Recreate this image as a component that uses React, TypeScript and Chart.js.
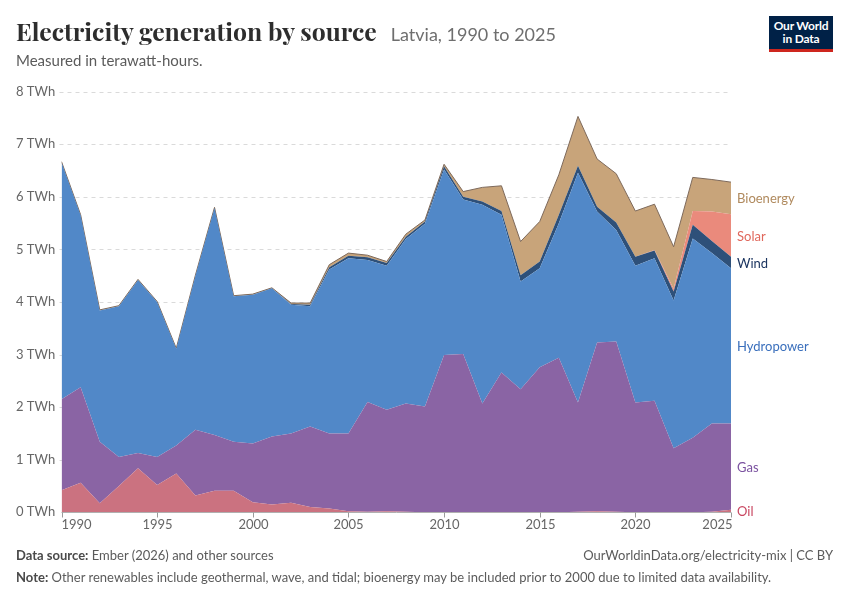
import { useEffect, useRef } from "react";
import { Chart, registerables } from "chart.js";

Chart.register(...registerables);

const years = [
  1990, 1991, 1992, 1993, 1994, 1995, 1996, 1997, 1998, 1999,
  2000, 2001, 2002, 2003, 2004, 2005, 2006, 2007, 2008, 2009,
  2010, 2011, 2012, 2013, 2014, 2015, 2016, 2017, 2018, 2019,
  2020, 2021, 2022, 2023, 2024, 2025,
];

const oil = [
  0.42, 0.56, 0.17, 0.5, 0.84, 0.52, 0.74, 0.32, 0.41, 0.41,
  0.19, 0.15, 0.18, 0.1, 0.07, 0.02, 0.01, 0.02, 0.01, 0.0,
  0.0, 0.0, 0.0, 0.0, 0.0, 0.0, 0.0, 0.01, 0.02, 0.01,
  0.0, 0.0, 0.0, 0.0, 0.01, 0.05,
];

const gas = [
  1.73, 1.82, 1.17, 0.55, 0.29, 0.53, 0.53, 1.25, 1.06, 0.93,
  1.12, 1.29, 1.32, 1.53, 1.43, 1.48, 2.09, 1.93, 2.06, 2.01,
  2.99, 3.01, 2.07, 2.66, 2.34, 2.76, 2.94, 2.08, 3.21, 3.24,
  2.09, 2.12, 1.22, 1.42, 1.68, 1.64,
];

const hydro = [
  4.51, 3.27, 2.5, 2.87, 3.29, 2.95, 1.84, 2.93, 4.32, 2.77,
  2.83, 2.82, 2.45, 2.29, 3.12, 3.33, 2.7, 2.74, 3.13, 3.48,
  3.53, 2.94, 3.78, 3.0, 2.05, 1.88, 2.56, 4.37, 2.49, 2.12,
  2.6, 2.71, 2.81, 3.79, 3.24, 2.95,
];

const wind = [
  0.0, 0.0, 0.0, 0.0, 0.0, 0.0, 0.0, 0.0, 0.0, 0.0,
  0.0, 0.0, 0.01, 0.03, 0.04, 0.05, 0.05, 0.05, 0.04, 0.04,
  0.06, 0.05, 0.06, 0.07, 0.12, 0.13, 0.16, 0.13, 0.09, 0.14,
  0.17, 0.15, 0.17, 0.26, 0.23, 0.22,
];

const solar = [
  0, 0, 0, 0, 0, 0, 0, 0, 0, 0,
  0, 0, 0, 0, 0, 0, 0, 0, 0, 0,
  0, 0, 0, 0, 0, 0, 0, 0, 0, 0,
  0, 0.01, 0.05, 0.26, 0.56, 0.81,
];

const bio = [
  0.01, 0.01, 0.01, 0.01, 0.01, 0.01, 0.01, 0.01, 0.01, 0.01,
  0.01, 0.01, 0.02, 0.03, 0.05, 0.05, 0.04, 0.03, 0.05, 0.03,
  0.04, 0.1, 0.27, 0.48, 0.64, 0.76, 0.76, 0.94, 0.91, 0.93,
  0.87, 0.87, 0.8, 0.64, 0.61, 0.61,
];

const seriesNames = ["Oil", "Gas", "Hydropower", "Wind", "Solar", "Bioenergy"];
const seriesValues = [oil, gas, hydro, wind, solar, bio];
const fillColors = ["#cb7280", "#8a64a4", "#5188c8", "#2e5079", "#ea8a7c", "#c8a47a"];
const borderColors = ["#cb7280", "#8a64a4", "#5188c8", "#2e5079", "#ea8a7c", "#7e6a5c"];
const borderWidths = [0, 0, 0, 0, 0, 1];
const labelColors = ["#c94761", "#7b52a0", "#3a6fbc", "#1c3560", "#e0685c", "#b08a5e"];

const yTicks = [0, 1, 2, 3, 4, 5, 6, 7, 8];
const xTicks = [1990, 1995, 2000, 2005, 2010, 2015, 2020, 2025];

const FONT = "Lato, 'Noto Sans', sans-serif";

const owidPlugin = {
  id: "owidDecor",
  beforeDatasetsDraw(chart: any) {
    const { ctx, chartArea, scales } = chart;
    const y = scales.y;
    ctx.save();
    ctx.strokeStyle = "#dadada";
    ctx.lineWidth = 1;
    ctx.setLineDash([4, 4]);
    for (const t of yTicks) {
      if (t === 0) continue;
      const py = Math.round(y.getPixelForValue(t)) + 0.5;
      ctx.beginPath();
      ctx.moveTo(chartArea.left - 2, py);
      ctx.lineTo(chartArea.right, py);
      ctx.stroke();
    }
    ctx.restore();
  },
  afterDatasetsDraw(chart: any) {
    const { ctx, chartArea, scales } = chart;
    const x = scales.x;
    const y = scales.y;
    ctx.save();
    const py0 = Math.round(y.getPixelForValue(0)) + 0.5;
    ctx.strokeStyle = "#b0b0b0";
    ctx.lineWidth = 1;
    ctx.beginPath();
    ctx.moveTo(chartArea.left, py0);
    ctx.lineTo(chartArea.right, py0);
    ctx.stroke();
    ctx.font = `13px ${FONT}`;
    ctx.fillStyle = "#666666";
    ctx.textBaseline = "alphabetic";
    xTicks.forEach((t, i) => {
      const px = Math.round(x.getPixelForValue(t)) + 0.5;
      ctx.strokeStyle = "#9a9a9a";
      ctx.beginPath();
      ctx.moveTo(px, py0);
      ctx.lineTo(px, py0 + 5);
      ctx.stroke();
      ctx.textAlign = i === 0 ? "left" : i === xTicks.length - 1 ? "right" : "center";
      const lx = i === 0 ? px - 1 : i === xTicks.length - 1 ? px + 1 : px;
      ctx.fillText(String(t), lx, 529);
    });
    ctx.textAlign = "left";
    ctx.textBaseline = "middle";
    for (const t of yTicks) {
      const py = y.getPixelForValue(t);
      ctx.fillText(`${t} TWh`, 16, py);
    }
    const last = years.length - 1;
    let cum = 0;
    const items: { name: string; color: string; py: number }[] = [];
    seriesValues.forEach((vals, i) => {
      const lo = cum;
      cum += vals[last];
      const mid = (lo + cum) / 2;
      items.push({ name: seriesNames[i], color: labelColors[i], py: y.getPixelForValue(mid) + 1 });
    });
    const minGap = 15;
    for (let i = 1; i < items.length; i++) {
      if (items[i - 1].py - items[i].py < minGap) {
        items[i].py = items[i - 1].py - minGap;
      }
    }
    ctx.font = `13px ${FONT}`;
    ctx.textBaseline = "middle";
    for (const it of items) {
      ctx.fillStyle = it.color;
      ctx.fillText(it.name, chartArea.right + 6, it.py);
    }
    ctx.restore();
  },
};

export default function App() {
  const canvasRef = useRef<HTMLCanvasElement | null>(null);

  useEffect(() => {
    if (!canvasRef.current) return;
    const datasets = seriesValues.map((vals, i) => ({
      label: seriesNames[i],
      data: years.map((yr, j) => ({ x: yr, y: vals[j] })),
      backgroundColor: fillColors[i],
      borderColor: borderColors[i],
      borderWidth: borderWidths[i],
      fill: i === 0 ? "origin" : "-1",
      pointRadius: 0,
      pointHoverRadius: 0,
      tension: 0,
    }));
    const chart = new Chart(canvasRef.current, {
      type: "line",
      data: { datasets: datasets as any },
      options: {
        animation: false,
        responsive: false,
        maintainAspectRatio: false,
        events: [],
        layout: { padding: { left: 61.5, right: 119, top: 91.7, bottom: 87.7 } },
        plugins: {
          legend: { display: false },
          tooltip: { enabled: false },
          title: { display: false },
        },
        scales: {
          x: { type: "linear", min: 1990, max: 2025, display: false },
          y: { type: "linear", stacked: true, min: 0, max: 8, display: false },
        },
      },
      plugins: [owidPlugin],
    });
    return () => chart.destroy();
  }, []);

  return (
    <div
      style={{
        position: "absolute",
        left: 0,
        top: 0,
        width: 850,
        height: 600,
        background: "#ffffff",
        fontFamily: FONT,
        overflow: "hidden",
      }}
    >
      <canvas
        ref={canvasRef}
        width={850}
        height={600}
        style={{ position: "absolute", left: 0, top: 0, width: 850, height: 600 }}
      />
      <div
        style={{
          position: "absolute",
          left: 16,
          top: 19.2,
          display: "flex",
          alignItems: "baseline",
          whiteSpace: "nowrap",
        }}
      >
        <span
          style={{
            fontFamily: "'Playfair Display', 'Liberation Serif', serif",
            fontWeight: 700,
            fontSize: 24.8,
            lineHeight: "24.8px",
            color: "#2d2d2d",
          }}
        >
          Electricity generation by source
        </span>
        <span style={{ fontSize: 18, color: "#6e6e6e", marginLeft: 14, lineHeight: "18px" }}>
          Latvia, 1990 to 2025
        </span>
      </div>
      <div
        style={{
          position: "absolute",
          left: 16,
          top: 52.7,
          fontSize: 15,
          lineHeight: "15px",
          color: "#5b5b5b",
          whiteSpace: "nowrap",
        }}
      >
        Measured in terawatt-hours.
      </div>
      <div
        style={{
          position: "absolute",
          left: 769,
          top: 16,
          width: 64,
          height: 33,
          background: "#002147",
          color: "#ffffff",
          fontWeight: 700,
          fontSize: 12,
          lineHeight: "12.5px",
          textAlign: "center",
          paddingTop: 4,
          boxSizing: "border-box",
          letterSpacing: -0.2,
        }}
      >
        Our World
        <br />
        in Data
      </div>
      <div
        style={{
          position: "absolute",
          left: 769,
          top: 49,
          width: 64,
          height: 3,
          background: "#ce261e",
        }}
      />
      <div
        style={{
          position: "absolute",
          left: 16,
          top: 548,
          fontSize: 13,
          lineHeight: "14px",
          color: "#5b5b5b",
          whiteSpace: "nowrap",
        }}
      >
        <b style={{ fontWeight: 700, color: "#4a4a4a" }}>Data source:</b> Ember (2026) and other sources
      </div>
      <div
        style={{
          position: "absolute",
          right: 17,
          top: 548,
          fontSize: 13,
          lineHeight: "14px",
          color: "#5b5b5b",
          whiteSpace: "nowrap",
        }}
      >
        OurWorldinData.org/electricity-mix | CC BY
      </div>
      <div
        style={{
          position: "absolute",
          left: 16,
          top: 570,
          fontSize: 13,
          lineHeight: "14px",
          color: "#5b5b5b",
          whiteSpace: "nowrap",
        }}
      >
        <b style={{ fontWeight: 700, color: "#4a4a4a" }}>Note:</b> Other renewables include geothermal, wave, and tidal; bioenergy may be included prior to 2000 due to limited data availability.
      </div>
    </div>
  );
}
